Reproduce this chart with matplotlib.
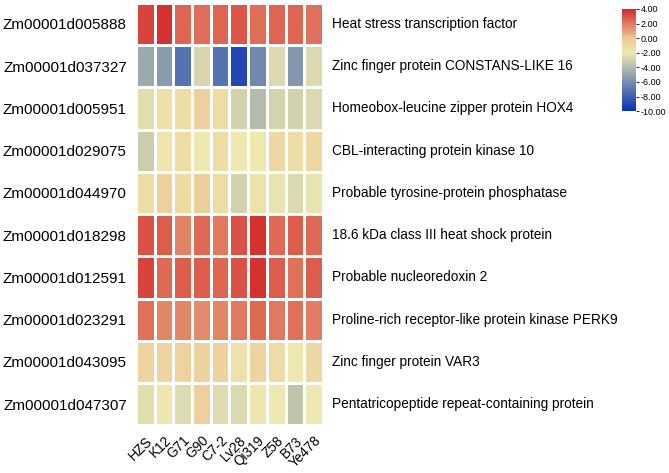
import numpy as np
import matplotlib.pyplot as plt
from matplotlib.colors import LinearSegmentedColormap

plt.rcParams['font.family'] = ['Liberation Sans', 'DejaVu Sans']

genes = ['Zm00001d005888', 'Zm00001d037327', 'Zm00001d005951', 'Zm00001d029075',
         'Zm00001d044970', 'Zm00001d018298', 'Zm00001d012591', 'Zm00001d023291',
         'Zm00001d043095', 'Zm00001d047307']
descriptions = ['Heat stress transcription factor',
                'Zinc finger protein CONSTANS-LIKE 16',
                'Homeobox-leucine zipper protein HOX4',
                'CBL-interacting protein kinase 10',
                'Probable tyrosine-protein phosphatase',
                '18.6 kDa class III heat shock protein',
                'Probable nucleoredoxin 2',
                'Proline-rich receptor-like protein kinase PERK9',
                'Zinc finger protein VAR3',
                'Pentatricopeptide repeat-containing protein']
lines = ['HZS', 'K12', 'G71', 'G90', 'C7-2', 'Lv28', 'Qi319', 'Z58', 'B73', 'Ye478']

# log2 expression values
values = np.array([
    [3.3, 3.8, 2.5, 2.3, 2.5, 2.8, 2.3, 2.5, 2.5, 2.2],
    [-4.8, -5.4, -7.2, -2.8, -7.2, -9.0, -6.2, -2.7, -5.6, -2.7],
    [-2.5, -1.5, -1.2, -0.5, -1.2, -3.0, -4.0, -2.9, -3.0, -2.7],
    [-3.2, -1.7, -1.2, -2.0, -1.2, -2.0, -1.9, -1.0, -1.3, -1.0],
    [-1.2, -0.5, -1.1, -0.4, -1.2, -3.0, -1.6, -2.2, -2.7, -2.2],
    [3.0, 2.7, 1.8, 2.4, 2.0, 3.0, 3.8, 2.4, 2.7, 2.4],
    [3.3, 2.4, 2.7, 2.7, 2.5, 3.0, 3.8, 2.7, 2.2, 2.7],
    [2.2, 1.7, 1.7, 1.5, 1.7, 2.0, 2.4, 2.0, 2.2, 1.9],
    [-0.7, -0.7, -0.7, -0.6, -0.6, -1.6, -0.7, -1.2, -2.0, -1.0],
    [-2.4, -1.8, -2.6, -0.5, -2.6, -2.7, -1.8, -2.0, -3.6, -2.0],
])

vmin, vmax = -10, 4
stops = [(-10, '#0a30b5'), (-7, '#5a78b0'), (-4, '#b4baac'), (-2, '#eee9b0'),
         (0, '#ecc896'), (2, '#e07a60'), (4, '#d42a2a')]
cmap = LinearSegmentedColormap.from_list(
    'expr', [((v - vmin) / (vmax - vmin), c) for v, c in stops])

fig = plt.figure(figsize=(6.69, 4.73), dpi=100)
ax = fig.add_axes([0.203, 0.101, 0.280, 0.893])
mesh = ax.pcolormesh(values, cmap=cmap, vmin=vmin, vmax=vmax,
                     edgecolor='white', linewidth=1)
ax.set_xlim(0, len(lines))
ax.set_ylim(len(genes), 0)
for s in ax.spines.values():
    s.set_visible(False)

fs = 9.8
ax.set_yticks(np.arange(len(genes)) + 0.5)
ax.set_yticklabels(genes, fontsize=11)
ax.tick_params(length=0, pad=6.5)
for i, d in enumerate(descriptions):
    ax.text(len(lines) + 0.5, i + 0.5, d, fontsize=fs, va='center', ha='left')

ax.set_xticks(np.arange(len(lines)) + 0.5)
ax.set_xticklabels(lines, rotation=45, ha='right', rotation_mode='anchor',
                   fontsize=fs)
ax.tick_params(axis='x', pad=6)

cax = fig.add_axes([0.930, 0.765, 0.021, 0.216])
cb = fig.colorbar(mesh, cax=cax, ticks=np.arange(4, -11, -2))
cb.ax.set_yticklabels(['%.2f' % t for t in np.arange(4, -11, -2)], fontsize=6.5)
cb.ax.tick_params(length=2, width=0.6, pad=1)
cb.outline.set_visible(False)

fig.savefig('out.png', dpi=100)
